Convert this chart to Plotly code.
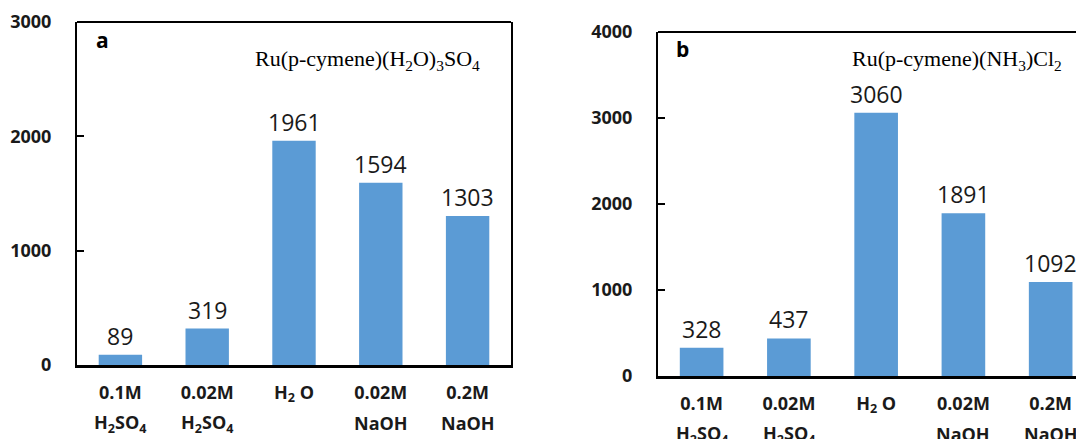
import plotly.graph_objects as go

# The page body has an 8 px margin; lay out in reference pixels and shift by it.
OFF = 8
W, H = 1084 - OFF, 439 - OFF

categories = ["0.1M", "0.02M", "H<sub>2</sub> O", "0.02M", "0.2M"]
categories_line2 = ["H<sub>2</sub>SO<sub>4</sub>", "H<sub>2</sub>SO<sub>4</sub>", "", "NaOH", "NaOH"]
values_a = [89, 319, 1961, 1594, 1303]
values_b = [328, 437, 3060, 1891, 1092]
title_a = "Ru(p-cymene)(H<sub>2</sub>O)<sub>3</sub>SO<sub>4</sub>"
title_b = "Ru(p-cymene)(NH<sub>3</sub>)Cl<sub>2</sub>"
ticks_a = [0, 1000, 2000, 3000]
ticks_b = [0, 1000, 2000, 3000, 4000]

BAR = "#5B9BD5"
SANS = "Open Sans"
SERIF = "Liberation Serif"

def px_x(p):
    return (p - OFF) / W

def px_y(p):
    return 1 - (p - OFF) / H

xpos = list(range(len(categories)))

fig = go.Figure()
fig.add_trace(go.Bar(x=xpos, y=values_a, marker_color=BAR, marker_line_width=0,
                     xaxis="x", yaxis="y", showlegend=False, hoverinfo="skip"))
fig.add_trace(go.Bar(x=xpos, y=values_b, marker_color=BAR, marker_line_width=0,
                     xaxis="x2", yaxis="y2", showlegend=False, hoverinfo="skip"))

axis_font = dict(family=SANS, size=18, color="#1a1a1a", weight="bold")

common_x = dict(tickmode="array", tickvals=xpos, ticktext=categories,
                showline=True, linecolor="black", linewidth=3, ticks="",
                showgrid=False, zeroline=False, tickfont=axis_font,
                ticklabelstandoff=9, fixedrange=True, automargin=False)
common_y = dict(tickmode="array", showline=True, linecolor="black", linewidth=2,
                ticks="inside", ticklen=7, tickwidth=2, tickcolor="black",
                showgrid=False, zeroline=False, tickfont=axis_font,
                ticklabelstandoff=20, fixedrange=True, automargin=False)

fig.update_layout(
    width=W, height=H,
    margin=dict(l=0, r=0, t=0, b=0, autoexpand=False),
    paper_bgcolor="white", plot_bgcolor="white",
    bargap=0.5,
    xaxis=dict(common_x, domain=[px_x(77), px_x(511)], range=[-0.5, 4.5], anchor="y"),
    yaxis=dict(common_y, domain=[px_y(365), px_y(22)], range=[0, 3000],
               tickvals=ticks_a, ticktext=[str(t) for t in ticks_a], mirror=True, anchor="x"),
    xaxis2=dict(common_x, domain=[px_x(658), 1.0], range=[-0.5, 4.382], anchor="y2"),
    yaxis2=dict(common_y, domain=[px_y(376), px_y(32)], range=[0, 4000],
                tickvals=ticks_b, ticktext=[str(t) for t in ticks_b], anchor="x2"),
)

# top frame lines
fig.add_shape(type="line", xref="x domain", yref="y domain", x0=0, x1=1, y0=1, y1=1,
              line=dict(color="black", width=2))
fig.add_shape(type="line", xref="x2 domain", yref="y2 domain", x0=0, x1=1, y0=1, y1=1,
              line=dict(color="black", width=2))

ann = []
# value labels and second line of category labels
for xa, ya, vals in (("x", "y", values_a), ("x2", "y2", values_b)):
    for xi, v in zip(xpos, vals):
        ann.append(dict(x=xi, y=v, xref=xa, yref=ya, text=str(v), showarrow=False,
                        yanchor="bottom", yshift=1,
                        font=dict(family=SANS, size=23, color="#1a1a1a")))
    for xi, t in zip(xpos, categories_line2):
        if t:
            ann.append(dict(x=xi, y=0, xref=xa, yref=ya + " domain", text=t, showarrow=False,
                            yanchor="middle", yshift=-58, font=axis_font))

ann.append(dict(x=px_x(94), y=px_y(40), xref="paper", yref="paper", text="a",
                showarrow=False, xanchor="left", yanchor="middle",
                font=dict(family=SANS, size=21, color="black", weight="bold")))
ann.append(dict(x=px_x(674), y=px_y(49), xref="paper", yref="paper", text="b",
                showarrow=False, xanchor="left", yanchor="middle",
                font=dict(family=SANS, size=21, color="black", weight="bold")))
ann.append(dict(x=px_x(253), y=px_y(60), xref="paper", yref="paper", text=title_a,
                showarrow=False, xanchor="left", yanchor="middle",
                font=dict(family=SERIF, size=22, color="black")))
ann.append(dict(x=px_x(850), y=px_y(60), xref="paper", yref="paper", text=title_b,
                showarrow=False, xanchor="left", yanchor="middle",
                font=dict(family=SERIF, size=22, color="black")))
fig.update_layout(annotations=ann)

fig.write_html("out.html")
